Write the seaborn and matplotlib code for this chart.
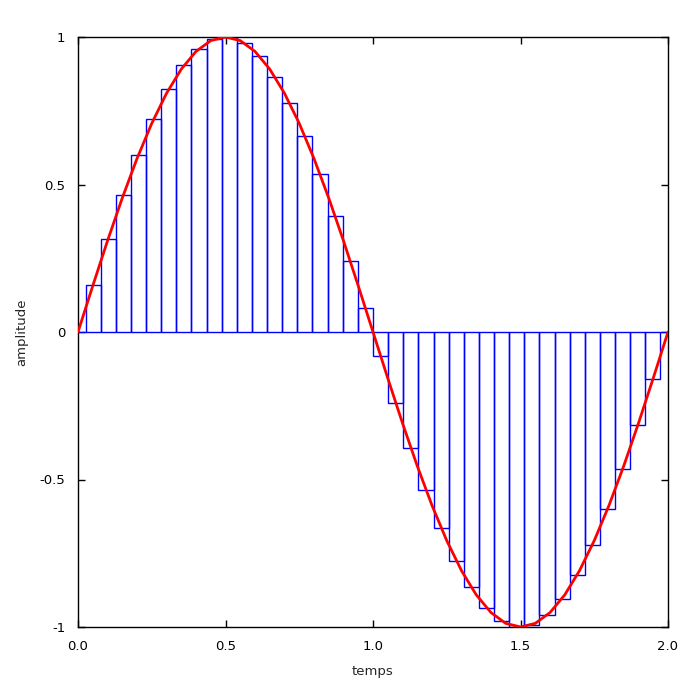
import matplotlib
matplotlib.use("Agg")
import matplotlib.pyplot as plt
import seaborn as sns
import pandas as pd

# sampled signal (40 samples over [0, 2])
sample_t = [0.0000, 0.0513, 0.1026, 0.1538, 0.2051, 0.2564, 0.3077, 0.3590, 0.4103, 0.4615,
            0.5128, 0.5641, 0.6154, 0.6667, 0.7179, 0.7692, 0.8205, 0.8718, 0.9231, 0.9744,
            1.0256, 1.0769, 1.1282, 1.1795, 1.2308, 1.2821, 1.3333, 1.3846, 1.4359, 1.4872,
            1.5385, 1.5897, 1.6410, 1.6923, 1.7436, 1.7949, 1.8462, 1.8974, 1.9487, 2.0000]
sample_y = [0.0, 0.1604, 0.3167, 0.4647, 0.6007, 0.7213, 0.8230, 0.9035, 0.9606, 0.9927,
            0.9992, 0.9798, 0.9350, 0.8660, 0.7746, 0.6631, 0.5344, 0.3920, 0.2393, 0.0805,
            -0.0805, -0.2393, -0.3920, -0.5344, -0.6631, -0.7746, -0.8660, -0.9350, -0.9798, -0.9992,
            -0.9927, -0.9606, -0.9035, -0.8230, -0.7213, -0.6007, -0.4647, -0.3167, -0.1604, 0.0]

# continuous signal
curve_t = [0.00, 0.05, 0.10, 0.15, 0.20, 0.25, 0.30, 0.35, 0.40, 0.45,
           0.50, 0.55, 0.60, 0.65, 0.70, 0.75, 0.80, 0.85, 0.90, 0.95,
           1.00, 1.05, 1.10, 1.15, 1.20, 1.25, 1.30, 1.35, 1.40, 1.45,
           1.50, 1.55, 1.60, 1.65, 1.70, 1.75, 1.80, 1.85, 1.90, 1.95, 2.00]
curve_y = [0.0, 0.1564, 0.3090, 0.4540, 0.5878, 0.7071, 0.8090, 0.8910, 0.9511, 0.9877,
           1.0, 0.9877, 0.9511, 0.8910, 0.8090, 0.7071, 0.5878, 0.4540, 0.3090, 0.1564,
           0.0, -0.1564, -0.3090, -0.4540, -0.5878, -0.7071, -0.8090, -0.8910, -0.9511, -0.9877,
           -1.0, -0.9877, -0.9511, -0.8910, -0.8090, -0.7071, -0.5878, -0.4540, -0.3090, -0.1564, 0.0]

x_ticks = [0.0, 0.5, 1.0, 1.5, 2.0]
x_labels = ["0.0", "0.5", "1.0", "1.5", "2.0"]
y_ticks = [-1, -0.5, 0, 0.5, 1]
y_labels = ["-1", "-0.5", "0", "0.5", "1"]

sns.set_style("white")
plt.rcParams['font.family'] = ['DejaVu Sans']

fig = plt.figure(figsize=(7, 7), dpi=100)
ax = fig.add_axes([78 / 700, 73 / 700, 590 / 700, 590 / 700])

samples = pd.DataFrame({"t": sample_t, "y": sample_y})
curve = pd.DataFrame({"t": curve_t, "y": curve_y})

# sample boxes: outline only
sns.barplot(data=samples, x="t", y="y", native_scale=True, width=1, fill=False,
            color="blue", linewidth=1, errorbar=None, ax=ax)
for p in ax.patches:
    p.set_edgecolor("blue")
    p.set_facecolor("none")

sns.lineplot(data=curve, x="t", y="y", color="red", linewidth=2, ax=ax, zorder=5)

ax.set_xlim(0, 2)
ax.set_ylim(-1, 1)
ax.set_xticks(x_ticks)
ax.set_xticklabels(x_labels)
ax.set_yticks(y_ticks)
ax.set_yticklabels(y_labels)

for s in ax.spines.values():
    s.set_color("black")
    s.set_linewidth(1)
ax.tick_params(direction="in", length=5, width=1, colors="black", labelsize=9.5,
               top=True, right=True, bottom=True, left=True, pad=9)

ax.set_xlabel("temps", fontsize=9.5, labelpad=9)
ax.set_ylabel("amplitude", fontsize=9.5, labelpad=8)

plt.savefig("out.png", dpi=100)
